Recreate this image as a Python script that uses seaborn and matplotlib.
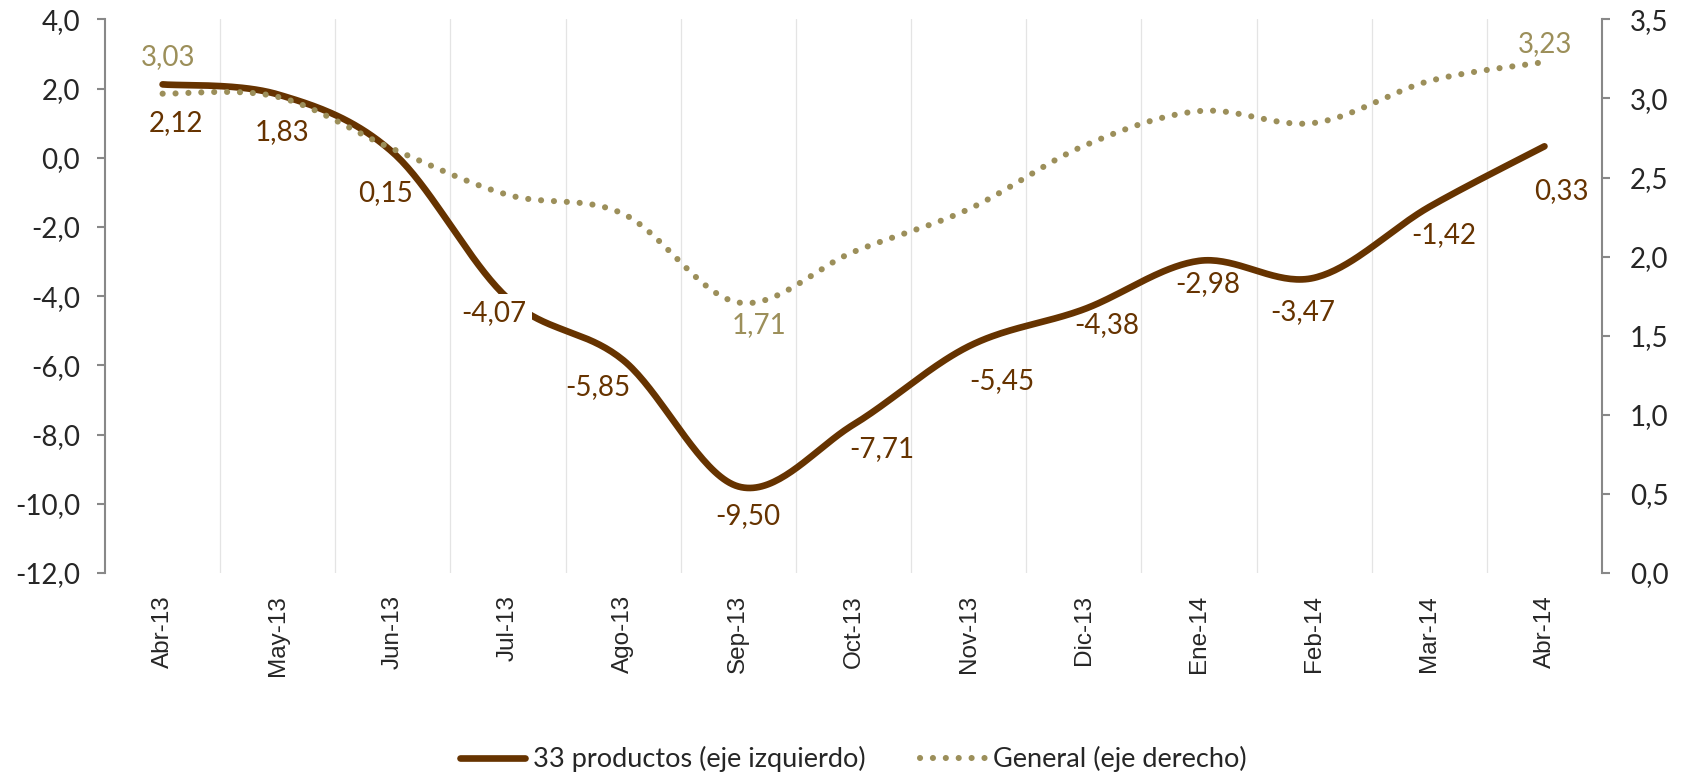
import numpy as np
import pandas as pd
import matplotlib
matplotlib.use("Agg")
import matplotlib.pyplot as plt
from matplotlib.ticker import FuncFormatter, FixedLocator
import seaborn as sns

meses = ['Abr-13', 'May-13', 'Jun-13', 'Jul-13', 'Ago-13', 'Sep-13', 'Oct-13',
         'Nov-13', 'Dic-13', 'Ene-14', 'Feb-14', 'Mar-14', 'Abr-14']
productos33 = [2.12, 1.83, 0.15, -4.07, -5.85, -9.50, -7.71, -5.45, -4.38, -2.98, -3.47, -1.42, 0.33]
general = [3.03, 3.01, 2.68, 2.39, 2.27, 1.71, 2.03, 2.30, 2.70, 2.92, 2.845, 3.11, 3.23]
general_labels = {0: 3.03, 5: 1.71, 12: 3.23}   # only these get a value label

# label offsets in pixels (dx, dy) relative to the point
off_prod = [(13, -39), (4, -38), (-7, -40), (-14, -14), (-25, -27), (9, -30), (28, -25),
            (33, -35), (23, -16), (9, -23), (-11, -34), (14, -28), (17, -45)]
off_gen = {0: (5, 37), 5: (21, -23), 12: (1, 18)}

C_PROD = '#663300'
C_GEN = '#9C8F5A'


def smooth(y, n=40):
    # excel-like smoothed line (catmull-rom / bezier)
    x = np.arange(len(y), dtype=float)
    y = np.asarray(y, dtype=float)
    px = np.concatenate([[x[0]], x, [x[-1]]])
    py = np.concatenate([[y[0]], y, [y[-1]]])
    xs, ys = [], []
    t = np.linspace(0, 1, n)
    for i in range(len(y) - 1):
        p0 = np.array([px[i], py[i]])
        p1 = np.array([px[i + 1], py[i + 1]])
        p2 = np.array([px[i + 2], py[i + 2]])
        p3 = np.array([px[i + 3], py[i + 3]])
        c1 = p1 + (p2 - p0) / 6
        c2 = p2 - (p3 - p1) / 6
        b = ((1 - t) ** 3)[:, None] * p1 + (3 * (1 - t) ** 2 * t)[:, None] * c1 \
            + (3 * (1 - t) * t ** 2)[:, None] * c2 + (t ** 3)[:, None] * p2
        xs.append(b[:, 0] if i == 0 else b[1:, 0])
        ys.append(b[:, 1] if i == 0 else b[1:, 1])
    return np.concatenate(xs), np.concatenate(ys)


sns.set_theme(style='white')
plt.rcParams['font.family'] = ['Lato', 'DejaVu Sans']

fig = plt.figure(figsize=(16.86, 7.76), dpi=100)
ax = fig.add_axes([0.0623, 0.2616, 0.8879, 0.7135])
ax2 = ax.twinx()

xs, ys = smooth(productos33)
df_p = pd.DataFrame({'x': xs, 'y': ys})
sns.lineplot(data=df_p, x='x', y='y', ax=ax, color=C_PROD, lw=4.8, sort=False,
             label='33 productos (eje izquierdo)', legend=False, zorder=3)
ax.lines[0].set_solid_capstyle('round')

xs2, ys2 = smooth(general)
df_g = pd.DataFrame({'x': xs2, 'y': ys2})
sns.lineplot(data=df_g, x='x', y='y', ax=ax2, color=C_GEN, lw=4.4, sort=False,
             label='General (eje derecho)', legend=False, zorder=3)
gl = ax2.lines[0]
gl.set_linestyle((0, (0.01, 2.1)))
gl.set_dash_capstyle('round')

ax.set_xlim(-0.5, len(meses) - 0.5)
ax.set_ylim(-12, 4)
ax2.set_ylim(0, 3.5)
ax.set_yticks(np.arange(-12, 4.1, 2))
ax2.set_yticks(np.arange(0, 3.51, 0.5))
fmt = FuncFormatter(lambda v, p: f"{v:.1f}".replace('.', ','))
ax.yaxis.set_major_formatter(fmt)
ax2.yaxis.set_major_formatter(fmt)

ax.set_xticks(range(len(meses)))
ax.set_xticklabels(meses, rotation=90, family=['Liberation Sans', 'DejaVu Sans'], fontsize=17.5)
ax.xaxis.set_minor_locator(FixedLocator(np.arange(0.5, len(meses) - 1, 1)))
ax.grid(False)
ax2.grid(False)
ax.grid(which='minor', axis='x', color='#E4E4E4', lw=0.9)
ax.set_xlabel('')
ax.set_ylabel('')
ax2.set_ylabel('')

for s in ['top', 'bottom', 'right']:
    ax.spines[s].set_visible(False)
for s in ['top', 'bottom', 'left']:
    ax2.spines[s].set_visible(False)
ax.spines['left'].set_color('#888888')
ax.spines['left'].set_linewidth(1.5)
ax2.spines['right'].set_color('#888888')
ax2.spines['right'].set_linewidth(1.5)

ax.tick_params(axis='x', which='both', length=0, pad=16)
ax.tick_params(axis='y', length=6, width=1.5, color='#888888', labelsize=20, pad=12, left=True)
ax2.tick_params(axis='y', length=6, width=1.5, color='#888888', labelsize=20, pad=14, right=True)

for i, v in enumerate(productos33):
    dx, dy = off_prod[i]
    t = ax.annotate(f"{v:.2f}".replace('.', ','), (i, v), xytext=(dx, dy), textcoords='offset pixels',
                    ha='center', va='center', fontsize=20, color=C_PROD, zorder=5)
    if i == 3:
        # this label sits on the line in the original, with a white fill
        t.set_bbox(dict(boxstyle='square,pad=0.2', fc='white', ec='none'))

for i, v in general_labels.items():
    dx, dy = off_gen[i]
    ax2.annotate(f"{v:.2f}".replace('.', ','), (i, v), xytext=(dx, dy), textcoords='offset pixels',
                 ha='center', va='center', fontsize=20, color=C_GEN, zorder=5)

h1, l1 = ax.get_legend_handles_labels()
h2, l2 = ax2.get_legend_handles_labels()
fig.legend(h1 + h2, l1 + l2, loc='center', bbox_to_anchor=(0.506, 0.022), ncol=2,
           frameon=False, fontsize=19.5, handlelength=2.4, handletextpad=0.3, columnspacing=2.0)

fig.savefig('out.png', dpi=100)
